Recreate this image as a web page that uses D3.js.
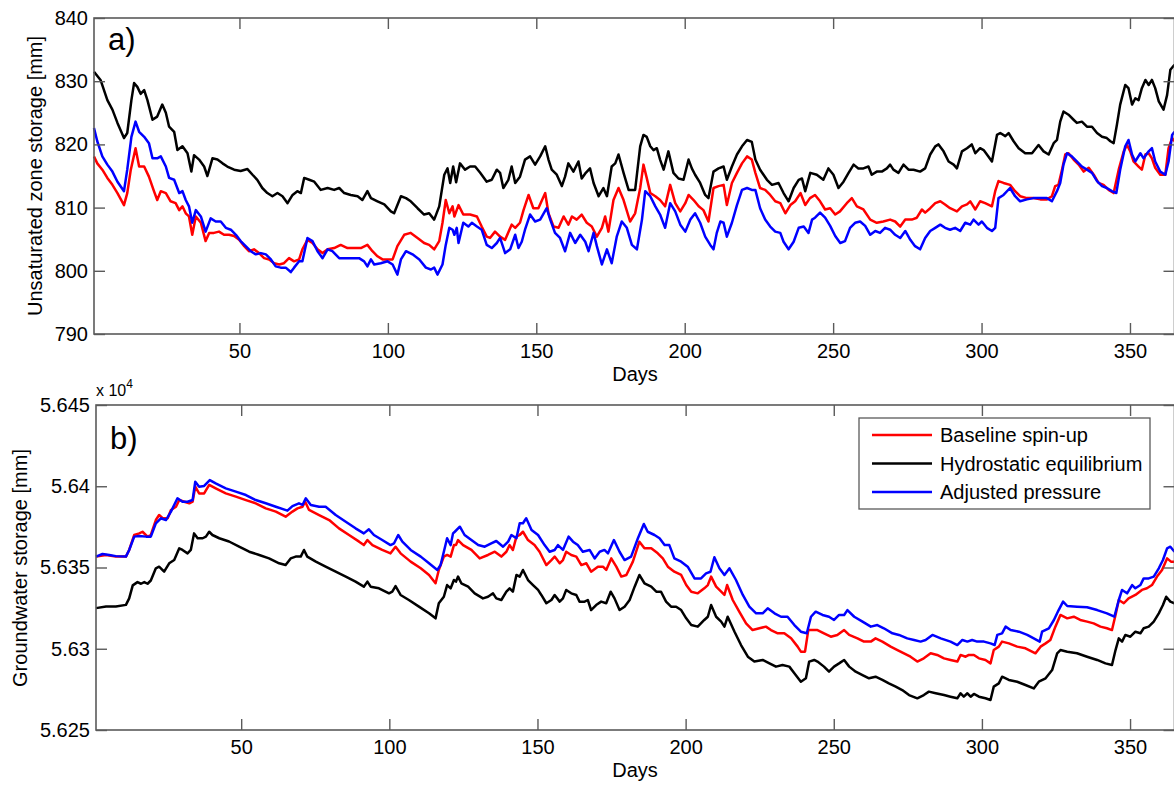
<!DOCTYPE html>
<html>
<head>
<meta charset="utf-8">
<script src="https://cdn.jsdelivr.net/npm/d3@7"></script>
<style>
  body { margin: 0; background: #fff; }
  svg text { font-family: "Liberation Sans", Arial, Helvetica, sans-serif; fill: #000; }
</style>
</head>
<body>
<div id="chart"></div>
<script>
// Storage time series: [day, value]
// a) unsaturated zone storage [mm]
const uzBaseline = [[1,818.1],[2.1,817],[3.8,816],[5.5,814.7],[7.2,813.6],[8.9,812.3],[11.1,810.4],[12.2,812.3],[13.4,816],[15,819.4],[16.2,816.5],[17.9,816.5],[19.5,814.9],[21.2,812.6],[22.3,811.2],[23.5,812.6],[25.2,812.3],[26.8,811],[28.5,810.7],[29.7,809.6],[30.8,810.2],[31.9,809.1],[33,808.6],[34.1,805.7],[35.3,808.6],[37,807.6],[38.6,804.7],[39.8,806],[41.4,806],[43.1,806.2],[44.8,805.7],[46.5,805.7],[48.2,805.5],[49.9,804.9],[51.6,803.9],[53.2,803.1],[54.9,803.4],[56.6,802.8],[58.3,802],[60,801.8],[61.7,801.2],[63.4,801],[65,801.2],[66.7,802],[68.4,801.5],[70.1,801.8],[71.2,803.4],[72.9,804.9],[74.6,804.4],[76.3,803.4],[78,802.8],[79.7,803.4],[81.9,803.6],[84.1,804.1],[86.4,803.6],[88.6,803.6],[90.9,803.6],[93.1,804.1],[94.8,803.1],[96.5,802.3],[98.2,801.8],[99.9,801.8],[101.6,801.8],[103.2,803.9],[105.5,805.7],[107.7,806],[110,805.2],[112.2,804.4],[113.9,804.1],[115.6,803.4],[117.3,804.7],[118.4,807.6],[119.5,811.2],[120.7,809.1],[121.8,810.2],[122.4,808.6],[123.8,810.4],[125.4,808.9],[127.7,808.9],[130,808.6],[131.6,807],[133.3,805.4],[134.4,805.2],[136.1,806.2],[137.8,805.4],[139.5,804.9],[141.7,807.3],[142.9,806.8],[144.5,807.6],[145.7,809.6],[147.4,812],[149,809.9],[150.7,809.9],[153,812.3],[154.1,809.1],[155.8,807],[157.5,806.8],[159.2,808.6],[160.8,807.3],[162,808.6],[163.6,808.1],[165.3,808.9],[167,807.6],[168.7,807],[170.4,805.4],[172.1,806.8],[173.2,808.6],[174.3,806.2],[176,811.2],[177.7,813.1],[179.4,811.2],[181.6,807.8],[183.3,809.1],[185,813.1],[186.1,816.8],[187.2,814.7],[188.4,812.3],[190.1,811.8],[191.7,811.2],[193.4,810.2],[195.1,813.6],[196.8,810.7],[198.5,809.4],[200.2,810.7],[201.3,812],[203,811.2],[204.7,810.2],[206.3,809.6],[208,807.8],[209.7,813.1],[211.4,813.4],[213.1,813.6],[214.2,810.4],[215.9,813.9],[217.6,815.5],[219.3,817],[221,818.1],[222.6,817.6],[223.8,815.5],[225.4,813.1],[227.1,812.8],[228.8,812],[230.5,811],[232.2,810.7],[233.9,809.1],[235.6,810.4],[237.2,811],[239,812.3],[240.6,810.4],[242.2,811.5],[243.9,812],[245.6,811],[247.3,809.7],[249,809.9],[250.7,808.9],[252.3,809.4],[254.6,810.7],[256.3,811.5],[258,810.2],[260.2,809.7],[262.5,808.1],[264.7,807.6],[266.9,807.8],[269.2,808.1],[270.9,807.8],[272.6,807],[274.3,808.1],[276.5,808.1],[278.2,808.4],[279.9,809.7],[281,809.2],[282.7,809.9],[284.4,810.7],[286.1,811],[287.7,810.5],[289.4,809.9],[291.7,809.4],[293.4,810.2],[295.1,810.5],[296.2,811],[297.9,809.7],[299.5,811],[301.2,810.7],[303.5,810.2],[304.6,812.6],[305.7,814.2],[307.4,813.9],[309.6,813.6],[311.3,812.6],[313,811.8],[315.3,811.5],[317.5,811.5],[319.8,811.3],[322,811.3],[323.7,811.8],[324.8,813.4],[325.9,813.6],[327.1,816],[328.2,818.4],[329.3,818.6],[331,817.6],[332.7,816.8],[334.4,815.7],[336.1,816.3],[337.8,815.2],[339.4,813.9],[341.1,813.6],[342.8,812.8],[344.5,812.3],[346.2,816],[347.9,818.9],[349,819.9],[350.1,818.9],[351.2,817.3],[352.9,816.5],[354,816],[355.2,818.4],[356.3,818.6],[357.4,817.8],[358.5,816.3],[360.2,815.2],[361.9,815.2],[363,819.4],[364.2,821],[365,820.5]];

const uzHydrostatic = [[1,831.5],[3.2,830.2],[5.5,827],[7.2,825.5],[8.9,823.4],[11.1,821],[12.2,821.8],[13.6,827],[14.5,829.7],[15.6,829.1],[16.7,828],[17.9,828.6],[19,827],[20.7,823.9],[22.3,824.4],[24,826.3],[25.2,825],[26.3,822.8],[28,822],[29.1,819.1],[30.8,819.7],[32.5,818.6],[33.8,815.7],[34.7,818.3],[36.4,817.6],[38.1,816.5],[39.2,815],[40.9,817.8],[42.6,817.6],[44.3,817],[45.9,816.5],[48.2,816],[50.4,815.8],[52.7,816.1],[54.4,815.2],[56,814.4],[57.7,813.1],[59.4,812.3],[61.1,811.8],[62.8,812.3],[64.5,811.8],[66.2,810.7],[67.9,812],[69.5,812.6],[70.7,812.3],[71.8,814.7],[73.5,814.4],[75.2,814.1],[77.4,812.8],[79.7,813.1],[81.9,812.8],[83.6,813.1],[85.3,812.3],[87.5,812],[89.8,811.8],[91.4,811.2],[93.1,812.6],[94.3,811.5],[96.5,811],[98.8,810.5],[101,809.4],[102.1,809.1],[104.4,811.8],[106.1,811.5],[107.7,811],[110,809.9],[112.2,808.9],[113.9,809.1],[115.6,808.1],[117.3,810.2],[119,815.2],[120.1,816.2],[121,813.9],[122,816.5],[123,814],[124.3,817],[126,816],[127.7,816.5],[129.4,816.5],[131.1,815.5],[133.3,814.1],[135,814.4],[136.7,816],[137.8,815.5],[138.9,813.1],[140.6,814.4],[141.7,816.5],[142.9,813.9],[144.5,814.9],[146.2,817.6],[147.9,818.1],[149.6,816.8],[151.3,818.1],[153,819.7],[154.1,817.6],[155.2,816],[156.9,815.2],[158.6,813.4],[159.7,814.9],[160.8,817],[162.5,815.7],[164.2,817.3],[165.3,814.6],[166.5,815.4],[168.1,816.2],[169.3,813.9],[171,811.8],[172.6,813.1],[173.8,811.8],[175.4,816.5],[176.6,817],[177.7,818.4],[179.4,815.5],[181.1,812.8],[183.3,812.8],[185,819.7],[186.1,821.5],[187.2,821.2],[188.4,819.7],[189.5,819.1],[190.6,819.4],[191.7,817.6],[192.9,816],[194.5,818.9],[196.2,815.5],[197.9,814.6],[199.6,814.4],[201.3,817.6],[202.4,816.2],[203.5,815.2],[205.2,813.9],[206.9,812],[208,811.5],[209.7,815.7],[211.4,816.2],[213.1,816.5],[214.2,814.4],[215.9,816.5],[217.6,818.4],[219.3,819.7],[221,820.7],[222.6,820.4],[223.8,817.6],[225.4,816],[227.7,814.4],[229.4,813.6],[231.6,813.9],[233.3,812.3],[235,811],[236.7,813.1],[238.4,814.4],[239.5,814.6],[240.6,812.6],[242.3,815.5],[244.5,815.2],[246.7,814.4],[248.4,816.2],[250.1,815.2],[251.8,813.1],[253.5,814.1],[255.2,815.5],[256.9,816.8],[258.5,816.2],[260.2,816.2],[261.9,816.5],[263,815.2],[264.7,815.7],[266.4,815.7],[268.1,816.2],[269.2,816.8],[270.3,816],[272,815.5],[273.7,816.8],[275.4,816],[277.1,816],[279.3,815.7],[281,816.2],[282.7,818.4],[284.4,819.7],[285.5,820],[287.2,818.9],[288.9,817.3],[290.6,816.8],[291.7,816.2],[293.4,818.9],[295.1,819.4],[296.7,820],[297.9,818.6],[299.5,819.4],[300.7,819.1],[302.3,818.1],[303.5,817.3],[305.2,821.5],[306.3,821.8],[308,821.3],[309.1,821.8],[310.8,820.5],[312.5,819.4],[314.7,818.6],[317,818.6],[319.2,819.9],[320.9,818.9],[322.6,818.4],[324.3,820.2],[325.4,820.7],[326.5,823.6],[327.6,825.2],[329.3,824.7],[331,823.9],[332.1,823.4],[333.8,823.6],[335.5,822.8],[337.2,822.8],[338.9,821.8],[340.6,821.2],[342.2,821],[343.4,820.5],[344.5,820.2],[345.6,823.1],[346.7,826.3],[348.4,829.4],[349.5,828.9],[350.7,826.3],[351.8,827.3],[352.9,827],[354,828.9],[355.2,830.2],[356.3,829.4],[357.4,830.2],[358.5,828.9],[359.7,826.8],[361.3,825.5],[362.5,827.8],[363.6,831.8],[365,832.6]];

const uzAdjusted = [[1,822.6],[2.1,820.5],[3.8,818.1],[5.5,816.8],[7.2,815.7],[8.9,814.1],[11.1,812.6],[12.2,816],[13.6,821.2],[15,823.6],[16.2,822],[17.9,821.2],[19.5,820.2],[20.7,817.8],[22.3,817.8],[23.5,818.1],[25.2,816.5],[26.3,814.7],[28,814.4],[29.7,812.3],[30.8,812.6],[31.9,811.2],[33,810.2],[34.1,807.6],[35.3,809.6],[37,808.6],[38.6,806.2],[40.3,808.3],[42,807.8],[43.7,807.8],[45.4,806.8],[47.1,806.5],[48.8,805.7],[50.4,804.7],[52.1,803.9],[53.8,803.1],[55.5,802.6],[57.2,802.8],[58.9,802.6],[60.6,801.8],[62.2,800.7],[63.9,800.5],[65.6,800.5],[67.3,799.8],[68.4,800.5],[70.1,801.5],[71.2,801.5],[72.9,805.2],[74.6,804.7],[76.3,803.1],[78,802],[79.7,803.4],[81.3,803.1],[83.6,802],[85.8,802],[88.1,802],[90.3,802],[92,801.5],[93.1,800.7],[94.3,801.8],[95.4,801],[97.6,801.2],[99.9,801.5],[101.6,801],[103.2,799.4],[104.4,801.8],[106.1,803.1],[108.3,802.6],[110.6,801.8],[112.8,800.5],[114.5,800.2],[115.6,800.5],[116.7,799.4],[118.4,801],[119.5,804.1],[120.7,806.8],[121.8,806.5],[122.4,805.7],[123.2,806.8],[123.8,804.4],[125.4,807.6],[127.1,807],[128.3,807.6],[130,807],[131.6,806.5],[133.3,804.1],[135,803.6],[136.7,804.4],[137.8,805.2],[139.5,802.8],[141.2,803.4],[142.9,805.7],[144,803.6],[145.1,804.6],[146.2,806.5],[147.9,808.9],[149.6,807.8],[151.3,808.1],[153.5,809.9],[154.7,808.1],[156.3,806],[158,805.2],[159.7,803.1],[161.4,806],[163.1,804.4],[164.8,805.7],[166.5,804.6],[167.6,803.1],[169.3,806],[170.4,803.9],[172.1,801],[173.8,803.4],[175.4,801.2],[177.1,805.4],[178.8,807.8],[180.5,806.8],[182.2,804.1],[183.9,803.4],[185.6,808.1],[186.7,812.6],[188.4,811.8],[190.1,810.2],[191.7,808.9],[193.4,806.8],[195.1,810.7],[196.8,809.4],[198.5,807.3],[200.2,806.2],[201.9,808.1],[203.5,809.1],[205.2,807.6],[206.9,805.4],[208.6,804.1],[209.7,803.4],[210.8,806],[212,807.8],[213.1,807.6],[214.2,805.4],[215.9,807.6],[217.6,810.4],[219.3,812.8],[221,813.1],[222.6,812.8],[223.8,812.8],[225.4,809.9],[227.1,808.1],[228.8,807],[230.5,806.2],[232.2,806],[233.3,804.6],[235,803.4],[236.7,804.6],[238.4,806.8],[240.1,807],[241.7,806],[242.9,808.1],[243.9,808.4],[245.6,809.2],[247.3,808.4],[249,807.1],[250.7,805.5],[252.4,804.4],[254,804.7],[255.7,806.8],[257.4,807.6],[259.1,807.8],[260.8,807.1],[262.5,805.7],[264.2,806.3],[265.8,806],[267.5,806.8],[269.2,806.5],[270.9,805.7],[272.6,805.2],[274.3,806.3],[276,804.9],[277.6,803.9],[279.3,803.4],[281,805.2],[282.7,806.3],[284.4,806.8],[286.1,807.3],[287.7,806.8],[289.4,806.5],[291.1,806.8],[292.8,806.3],[294.5,807.6],[296.2,807.3],[297.3,808.1],[299,807.3],[300.1,807.8],[301.8,806.8],[303.5,806.3],[304.6,806.8],[305.7,811.5],[307.4,812],[309.6,813.1],[311.3,811.8],[313,811],[315.3,811.3],[317.5,811.5],[319.8,811.5],[322,811.5],[323.7,811],[325.4,812.6],[326.5,813.9],[327.6,816.8],[328.8,818.6],[330.4,818.1],[332.1,817.3],[333.8,816.5],[335.5,816],[337.2,815.5],[338.9,814.2],[340.6,813.4],[342.2,813.1],[343.9,812.6],[345.4,812.3],[346.7,816],[348.4,819.7],[349.5,820.7],[350.7,818.4],[351.8,817.3],[353.5,818.6],[354.6,817.8],[356.3,818.9],[357.4,819.4],[358.5,817.3],[360.2,815.7],[361.9,815.2],[363,817.3],[364.2,821.5],[365,822]];

// b) groundwater storage [mm]
const gwBaseline = [[1,56356.7],[4.4,56357.7],[7.7,56356.7],[11.1,56356.7],[12.2,56360.8],[13.9,56370],[15.6,56371],[16.7,56372],[18.4,56369],[19.5,56370],[21.2,56379.2],[22.3,56382.3],[23.5,56380.3],[25.2,56380.3],[26.3,56385.4],[28,56387.4],[29.1,56391.5],[30.8,56390.5],[32.5,56389.5],[33.6,56390.5],[34.5,56399.7],[35.8,56395.6],[37.5,56395.6],[39.2,56400.8],[41.4,56398.7],[44.8,56395.6],[48.2,56393.6],[51.6,56391.5],[54.9,56389.5],[58.3,56386.4],[61.7,56384.4],[65,56381.3],[67.3,56384.4],[69,56386.4],[70.7,56387.4],[71.6,56390.5],[72.9,56385.4],[76.3,56382.3],[79.7,56379.2],[83,56374.1],[86.4,56370],[89.8,56365.9],[91.4,56363.8],[92.6,56366.9],[94.3,56363.8],[97.6,56360.8],[100.4,56358.7],[102.1,56362.8],[103.8,56358.7],[107.2,56353.6],[110.6,56349.5],[113.4,56345.4],[115.6,56340.3],[116.7,56348.5],[118.4,56356.7],[119.5,56357.7],[120.7,56356.7],[121.8,56363.8],[122.5,56363.8],[123.2,56366.9],[124.9,56363.8],[127.7,56360.8],[130.5,56355.6],[133.3,56357.7],[135.6,56359.7],[137.8,56356.7],[139.5,56359.7],[140.6,56363.8],[141.7,56360.8],[142.9,56369],[144,56370],[145.1,56372],[146.8,56366.9],[149,56363.8],[150.7,56359.7],[153,56351.5],[154.7,56354.6],[155.8,56356.7],[157.5,56352.6],[158.6,56354.6],[159.7,56359.7],[161.4,56357.7],[163.1,56356.7],[164.8,56351.5],[166.5,56352.6],[168.1,56347.4],[170.4,56350.5],[172.1,56350.5],[173.2,56348.5],[174.9,56355.6],[176.6,56350.5],[178.3,56344.4],[180,56345.4],[182.2,56353.6],[184.4,56365.9],[186.1,56361.8],[188.4,56361.8],[190.6,56358.7],[192.3,56355.6],[194,56350.5],[196.2,56347.4],[198.5,56345.4],[200.2,56339.2],[201.9,56335.1],[204.1,56334.1],[206.3,56337.2],[207.5,56339.2],[208.6,56344.4],[210.3,56338.2],[212,56335.1],[213.1,56333.1],[214,56339.2],[215.9,56330],[218.1,56322.8],[220.4,56315.6],[222.6,56311.5],[224.9,56312.6],[227.1,56313.6],[228.8,56311.5],[231.1,56309.5],[233.3,56309.5],[235.6,56306.4],[237.8,56301.3],[238.9,56298.2],[240.3,56298.2],[241.4,56311.5],[243.4,56311.5],[244.5,56311.5],[246.7,56309.5],[249,56307.4],[251.2,56308.5],[253.5,56311.5],[255.2,56308.5],[258,56306.4],[260.2,56304.4],[262.5,56304.4],[264.1,56306.4],[266.4,56304.4],[269.2,56301.3],[271.5,56299.2],[273.7,56297.2],[275.9,56295.1],[278.2,56292.1],[280.4,56294.1],[282.7,56297.2],[284.9,56296.2],[287.2,56294.1],[289.4,56293.1],[291.7,56292.1],[292.8,56296.2],[294.5,56295.1],[295.6,56296.2],[297.3,56296.2],[299,56294.1],[301.2,56293.1],[302.9,56291],[304,56299.2],[305.7,56301.3],[306.8,56304.4],[309.1,56303.3],[311.9,56301.3],[314.7,56300.3],[318.1,56297.2],[319.8,56301.3],[321.5,56303.3],[323.1,56305.4],[324.8,56313.6],[326.5,56320.8],[328.8,56318.7],[331,56319.7],[333.2,56317.7],[335.5,56316.7],[337.7,56315.6],[340,56313.6],[342.2,56312.6],[343.9,56311.5],[345.1,56320.8],[346.2,56330],[347.9,56328],[349.5,56331],[351.8,56333.1],[354,56336.2],[355.7,56337.2],[357.4,56339.2],[359.1,56344.4],[360.8,56348.5],[362.5,56355.6],[363.8,56353.6],[365,56353.6]];

const gwHydrostatic = [[1,56325],[4.4,56326],[7.7,56326],[11.1,56327],[12.2,56331],[13.4,56339],[15,56341],[16.2,56340],[17.3,56341],[18.4,56340],[19.5,56342],[21.2,56349.5],[22.3,56350.5],[24,56347.4],[25.7,56352.6],[27.4,56354.6],[29.1,56361.8],[30.2,56360.8],[31.9,56358.7],[33,56360.8],[34.1,56371],[35.3,56368],[37,56368],[38.1,56369],[39.2,56372],[40.3,56370],[42.6,56368],[45.9,56366],[49.3,56362.8],[52.7,56359.7],[56.1,56357.7],[59.4,56355.6],[62.8,56352.6],[65,56351.5],[66.7,56355.6],[68.4,56356.7],[70.1,56356.7],[71.2,56360.8],[72.3,56356.7],[75.2,56353.6],[78.5,56350.5],[81.9,56347.4],[85.3,56344.4],[88.6,56341.3],[91.4,56338.2],[92.6,56341.3],[93.7,56338.2],[96.5,56337.2],[99.9,56334.1],[101,56335.1],[102.1,56338.6],[103.8,56333.1],[106.6,56330],[110,56325.9],[113.4,56321.8],[115.6,56318.7],[116.7,56328],[118.4,56332],[119.5,56339.2],[120.7,56337.2],[121.8,56342.3],[122.5,56341.3],[123.2,56344.4],[124.3,56340.3],[126.6,56338.2],[128.8,56334.1],[131.6,56331],[133.3,56332],[135,56334.1],[136.1,56331],[137.8,56330],[139.5,56335.1],[140.6,56337.2],[141.7,56335.1],[142.9,56345.4],[144,56344.4],[145.1,56348.5],[146.8,56342.3],[148.5,56339.2],[150.2,56336.2],[151.3,56333.1],[153,56328],[154.7,56330],[155.8,56333.1],[157.5,56329],[158.6,56331],[159.7,56336.2],[161.4,56334.1],[163.1,56333.1],[164.2,56329],[165.9,56329],[167,56330],[168.1,56323.8],[169.8,56326.9],[171.5,56329],[173.2,56328],[174.7,56335.1],[176,56331],[177.7,56323.8],[179.4,56325.9],[181.1,56330],[182.8,56338.2],[184.4,56345.4],[186.1,56340.3],[188.4,56338.2],[190.1,56335.1],[191.7,56335.1],[193.4,56329],[195.1,56325.9],[196.8,56325.9],[198.5,56323.8],[200.2,56318.7],[201.9,56314.6],[204.1,56313.6],[206.3,56317.7],[207.5,56319.7],[208.6,56326.9],[210.3,56319.7],[212,56316.7],[213.1,56313.6],[214.2,56319.7],[216.5,56310.5],[218.7,56302.3],[221,56295.1],[223.2,56292.1],[226,56293.1],[228.3,56291],[230.5,56289],[232.7,56290],[235,56289],[236.7,56284.9],[238.9,56279.7],[240.6,56281.8],[241.7,56292.1],[243.4,56293.1],[244.5,56292.1],[246.7,56289],[248.4,56285.9],[250.1,56289],[251.8,56291],[253.5,56293.1],[255.2,56289],[257.4,56285.9],[259.7,56283.8],[261.9,56281.8],[264.1,56282.8],[266.4,56280.8],[268.6,56278.7],[270.9,56276.7],[273.1,56274.6],[275.4,56271.5],[278.2,56269.5],[280.4,56271.5],[282.1,56273.6],[284.4,56272.6],[287.2,56271.5],[289.4,56270.5],[291.7,56269.5],[292.8,56272.6],[293.9,56270.5],[295.1,56272.6],[296.2,56270.5],[297.3,56272.2],[299,56270.5],[301.2,56269.5],[302.9,56268.5],[304,56276.7],[305.7,56278.7],[306.8,56282.8],[309.1,56280.8],[311.9,56279.7],[314.7,56277.7],[317.5,56275.6],[319.2,56279.7],[321.5,56281.8],[323.7,56286.9],[325.4,56297.2],[326.5,56299.2],[328.8,56298.2],[332.1,56297.2],[335.5,56295.1],[338.9,56293.1],[341.7,56291],[343.9,56290],[345.1,56299.2],[346.2,56306.4],[347.3,56304.4],[348.4,56308.5],[350.1,56307.4],[351.8,56310.5],[353.5,56309.5],[354.6,56312.6],[356.3,56313.6],[358,56316.7],[359.7,56321.8],[361.1,56326.9],[362.2,56332],[363.6,56329],[365,56328]];

const gwAdjusted = [[1,56356.7],[3.2,56358.3],[5.5,56357.7],[7.7,56357],[11.1,56356.7],[12.2,56360.8],[13.9,56369],[15.6,56369.4],[17.9,56369],[19.5,56369],[21.2,56377.2],[22.9,56380.3],[24.6,56379.2],[26.3,56384.4],[28.5,56392.6],[30.2,56390.5],[31.9,56390.5],[33.6,56391.5],[34.5,56402.8],[35.8,56399.7],[37.5,56400.2],[39.4,56403.8],[41.4,56401.8],[44.8,56398.7],[48.2,56396.7],[51.6,56394.6],[54.9,56391.5],[58.3,56389.5],[61.7,56387.4],[65.6,56385],[67.3,56387.8],[69.5,56389.5],[70.7,56388.5],[71.8,56392.6],[73.5,56388.5],[76.3,56387.4],[78.5,56387.4],[81.9,56382.3],[85.3,56378.2],[88.6,56374.1],[91.4,56371],[93.1,56373.5],[94.8,56370],[97.6,56366.9],[100.4,56363.8],[101.6,56364.9],[103,56370],[104.4,56365.9],[107.2,56360.8],[110.6,56356.7],[113.4,56352.6],[116.2,56348.5],[117.3,56351.5],[118.4,56359.7],[119.5,56368],[120.7,56363.8],[121.5,56371],[122.1,56372],[123.8,56375.1],[125.4,56370],[127.7,56366.9],[130,56363.8],[132.2,56362.8],[134.4,56364.9],[136.1,56366.3],[138.4,56362.8],[140.1,56365.9],[141.2,56370],[142.9,56368],[144,56377.2],[145.1,56377.2],[146.2,56380.3],[148,56373.1],[150.2,56370],[152.4,56363.8],[154.1,56359.7],[155.8,56360.8],[156.9,56363.8],[158.6,56360.8],[160.5,56369],[162,56365.9],[163.6,56363.8],[165.3,56359.7],[167.6,56360.8],[169.3,56355.6],[171,56359.7],[172.6,56360.8],[173.8,56358.7],[175.8,56366.9],[177.7,56359.7],[179.4,56354.6],[181.6,56356.7],[183.9,56368],[185.9,56376.8],[187.2,56372],[189.5,56370],[191.2,56368],[192.9,56363.8],[194.5,56363.8],[196.2,56355.6],[198.5,56353.6],[200.7,56350.5],[203,56343.3],[205.2,56343.3],[206.9,56346.4],[208.4,56347.4],[209.7,56356.3],[211.4,56349.5],[213.1,56345.4],[214.8,56349.5],[217,56342.3],[219.3,56333.1],[221.5,56325.9],[223.8,56321.8],[226,56321.8],[227.7,56324.9],[230,56321.8],[232.2,56319.7],[234.4,56319.7],[236.7,56314.6],[238.9,56310.5],[240.9,56309.5],[242.3,56319.7],[243.9,56322.8],[246.2,56320.8],[248.4,56319.7],[250.1,56317.7],[251.8,56320.8],[253.5,56320.8],[254.6,56323.8],[256.9,56319.7],[259.7,56316.7],[262.5,56313.6],[264.7,56314.6],[266.9,56312.6],[269.8,56309.5],[272,56308.5],[274.8,56306.4],[277.1,56305.4],[279.3,56304.4],[281,56305.4],[283.3,56308.5],[286.1,56306.4],[289.4,56304.4],[291.7,56302.3],[293.4,56305.4],[295.1,56304.4],[296.7,56305.4],[298.4,56304.4],[300.7,56304.4],[302.9,56303.3],[304.3,56302.3],[305.2,56308.5],[306.8,56309.5],[308,56313.6],[309.7,56311.5],[312.5,56310.5],[315.3,56308.5],[317.5,56306.4],[319.5,56304.4],[320.3,56310.5],[322.6,56312.6],[324.3,56317.7],[325.9,56323.8],[327.4,56329],[328.8,56326.3],[332.1,56325.9],[335.5,56325.5],[338.9,56323.8],[342.2,56321.8],[344.7,56319.7],[346.2,56330],[347.3,56336.2],[349,56334.1],[350.7,56339.2],[351.8,56337.2],[353.5,56339.2],[354.6,56343.3],[356.3,56343.3],[358,56344.4],[359.7,56349.5],[361.1,56354.6],[362.5,56361.8],[363.6,56362.8],[365,56359.7]];

const seriesNames = ["Baseline spin-up", "Hydrostatic equilibrium", "Adjusted pressure"];
const xTicks = [50, 100, 150, 200, 250, 300, 350];
const uzTicks = [790, 800, 810, 820, 830, 840];
const gwTicks = [56250, 56300, 56350, 56400, 56450];

const colors = ["#ff0000", "#000000", "#0000ff"];
const W = 1174, H = 785;
const font = 20;
const tick = 11;

const svg = d3.select("#chart").append("svg")
  .attr("width", W).attr("height", H);

function panel(opts) {
  const { left, right, top, bottom, yDomain, yTicks, yFmt, series, tag } = opts;
  const x = d3.scaleLinear().domain([1, 365]).range([left, right]);
  const y = d3.scaleLinear().domain(yDomain).range([bottom, top]);
  const g = svg.append("g");

  // lines first, frame on top
  const line = d3.line().x(d => x(d[0])).y(d => y(d[1]));
  series.forEach((s, i) => {
    g.append("path")
      .datum(s)
      .attr("fill", "none")
      .attr("stroke", colors[i])
      .attr("stroke-width", 2.5)
      .attr("stroke-linejoin", "round")
      .attr("d", line);
  });

  const styleAxis = sel => {
    sel.select(".domain").remove();
    sel.selectAll(".tick line").attr("stroke", "#5a5a5a").attr("stroke-width", 1.4);
    sel.selectAll("text").attr("font-size", font + "px")
      .attr("font-family", '"Liberation Sans", Arial, sans-serif').attr("fill", "#111");
  };

  g.append("g").attr("transform", `translate(0,${bottom})`)
    .call(d3.axisBottom(x).tickValues(xTicks).tickSize(-tick).tickPadding(10))
    .call(styleAxis);
  g.append("g").attr("transform", `translate(0,${top})`)
    .call(d3.axisTop(x).tickValues(xTicks).tickSize(-tick).tickFormat(""))
    .call(styleAxis);
  g.append("g").attr("transform", `translate(${left},0)`)
    .call(d3.axisLeft(y).tickValues(yTicks).tickSize(-tick).tickPadding(6).tickFormat(yFmt))
    .call(styleAxis);
  g.append("g").attr("transform", `translate(${right},0)`)
    .call(d3.axisRight(y).tickValues(yTicks).tickSize(-tick).tickFormat(""))
    .call(styleAxis);

  g.append("rect")
    .attr("x", left).attr("y", top)
    .attr("width", right - left).attr("height", bottom - top)
    .attr("fill", "none").attr("stroke", "#5a5a5a").attr("stroke-width", 1.6);

  g.append("text")
    .attr("x", left + 14).attr("y", top + tag.dy)
    .attr("font-size", "31px")
    .text(tag.text);

  return { x, y, g };
}

panel({
  left: 94, right: 1174.5, top: 18, bottom: 334,
  yDomain: [790, 840], yTicks: uzTicks, yFmt: d3.format("d"),
  series: [uzBaseline, uzHydrostatic, uzAdjusted],
  tag: { text: "a)", dy: 32 }
});

panel({
  left: 96, right: 1174.5, top: 405, bottom: 730,
  yDomain: [56250, 56450], yTicks: gwTicks, yFmt: d => String(+(d / 1e4).toFixed(4)),
  series: [gwBaseline, gwHydrostatic, gwAdjusted],
  tag: { text: "b)", dy: 44 }
});

// axis titles
svg.append("text").attr("x", 635).attr("y", 381)
  .attr("text-anchor", "middle").attr("font-size", font + "px").text("Days");
svg.append("text").attr("x", 635).attr("y", 777)
  .attr("text-anchor", "middle").attr("font-size", font + "px").text("Days");

svg.append("text")
  .attr("transform", "translate(42,176) rotate(-90)")
  .attr("text-anchor", "middle").attr("font-size", font + "px")
  .text("Unsaturated zone storage [mm]");
svg.append("text")
  .attr("transform", "translate(27,568) rotate(-90)")
  .attr("text-anchor", "middle").attr("font-size", font + "px")
  .text("Groundwater storage [mm]");

// exponent label above panel b
const expo = svg.append("text").attr("x", 96).attr("y", 396).attr("font-size", "16px");
expo.append("tspan").text("x 10");
expo.append("tspan").attr("dy", -8).attr("font-size", "12px").text("4");

// legend
const lg = svg.append("g").attr("transform", "translate(859,418)");
lg.append("rect")
  .attr("width", 291).attr("height", 91)
  .attr("fill", "#fff").attr("stroke", "#5a5a5a").attr("stroke-width", 1.3);
seriesNames.forEach((name, i) => {
  const cy = 17 + i * 28.5;
  lg.append("line")
    .attr("x1", 13).attr("x2", 73).attr("y1", cy).attr("y2", cy)
    .attr("stroke", colors[i]).attr("stroke-width", 2.5);
  lg.append("text")
    .attr("x", 81).attr("y", cy + 7)
    .attr("font-size", font + "px")
    .text(name);
});
</script>
</body>
</html>
